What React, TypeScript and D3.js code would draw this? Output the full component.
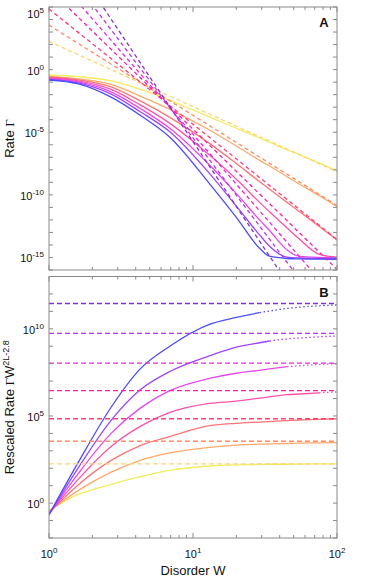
import React from 'react';
import * as d3 from 'd3';

// disorder strengths sampled
const disorder = [1, 1.6, 2.7, 4.3, 6.9, 13, 20, 29, 34, 45, 55, 75, 100];
const sizes = [4, 5, 6, 7, 8, 9, 10];

// panel A: log10 of rate for each system size
const rateL4 = [-0.43, -0.56, -0.9, -1.57, -2.45, -3.78, -4.68, -5.46, -5.8, -6.4, -6.8, -7.45, -8.1];
const rateL5 = [-0.54, -0.74, -1.17, -2.11, -3.17, -4.82, -6.1, -7.25, -7.7, -8.55, -9.15, -10.05, -10.95];
const rateL6 = [-0.61, -0.82, -1.38, -2.5, -3.81, -5.89, -7.5, -8.95, -9.55, -10.6, -11.35, -12.5, -13.6];
const rateL7 = [-0.67, -0.9, -1.58, -2.82, -4.29, -6.82, -8.75, -10.6, -11.35, -12.65, -13.55, -14.75, -14.97];
const rateL8 = [-0.72, -0.98, -1.77, -3.1, -4.69, -7.62, -9.9, -12.0, -12.85, -14.4, -14.92, -15.0, -15.02];
const rateL9 = [-0.78, -1.06, -1.95, -3.36, -4.96, -8.28, -10.9, -13.2, -14.1, -14.98, -15.04, -15.07, -15.08];
const rateL10 = [-0.83, -1.14, -2.2, -3.65, -5.4, -9.1, -11.8, -14.27, -14.9, -15.08, -15.11, -15.13, -15.15];

// panel B: log10 of rescaled rate
const scaledL4 = [-0.4, 0.5, 1.08, 1.52, 1.88, 2.13, 2.2, 2.22, 2.23, 2.23, 2.24, 2.25, 2.25];
const scaledL5 = [-0.47, 0.73, 1.78, 2.45, 2.88, 3.2, 3.33, 3.38, 3.4, 3.42, 3.44, 3.46, 3.47];
const scaledL6 = [-0.55, 1.06, 2.45, 3.3, 3.82, 4.44, 4.58, 4.65, 4.68, 4.73, 4.77, 4.81, 4.84];
const scaledL7 = [-0.6, 1.38, 3.25, 4.4, 5.2, 5.72, 5.85, 6.02, 6.1, 6.22, 6.26, 6.33, 6.38];
const scaledL8 = [-0.63, 1.71, 4.0, 5.45, 6.45, 7.15, 7.45, 7.62, 7.7, 7.83, 7.88, 7.96, 8.0];
const scaledL9 = [-0.66, 2.04, 4.75, 6.5, 7.55, 8.45, 8.95, 9.2, 9.3, 9.42, 9.47, 9.54, 9.59];
const scaledL10 = [-0.66, 2.35, 5.5, 7.7, 9.0, 10.25, 10.65, 10.93, 11.02, 11.17, 11.24, 11.32, 11.37];

// fitted plateau (log10) and power-law exponent 2L-2.8
const plateau = [2.25, 3.55, 4.84, 6.45, 8.03, 9.74, 11.45];
const exponent = [5.2, 7.2, 9.2, 11.2, 13.2, 15.2, 17.2];
// solid up to this W, dotted after
const solidUntil = [100, 100, 100, 75, 45, 34, 29];

const rates = [rateL4, rateL5, rateL6, rateL7, rateL8, rateL9, rateL10];
const scaled = [scaledL4, scaledL5, scaledL6, scaledL7, scaledL8, scaledL9, scaledL10];

const solidColors = ['#f3ec5c', '#ffa868', '#ff7474', '#ff50ac', '#e648ee', '#a044ff', '#4a4cff'];
const dashColors = ['#ffd46c', '#ff8a64', '#ff3c78', '#ff1ea8', '#ec22e2', '#c232e6', '#8632c8'];

const font = '"Liberation Sans", Arial, Helvetica, sans-serif';
const left = 49, right = 337;
const aTop = 7, aBottom = 270;
const bTop = 276.5, bBottom = 538;

const x = d3.scaleLog().domain([1, 100]).range([left, right]);
const yA = d3.scaleLog().domain([1e-16, 1e5]).range([aBottom, aTop]);
const yB = d3.scaleLog().domain([1e-2, 1e13]).range([bBottom, bTop]);

function Pow({ x: px, y: py, e, anchor }) {
  return (
    <text x={px} y={py} textAnchor={anchor} fontSize={11} fontFamily={font} fill="#111">
      10<tspan dy={-5} fontSize={8}>{e}</tspan>
    </text>
  );
}

function Frame({ y, top, bottom, lo, hi, labels, minLabel, letter }) {
  const decades = d3.range(lo, hi + 1);
  const xt = x.ticks();
  return (
    <g>
      <rect x={left} y={top} width={right - left} height={bottom - top} fill="none" stroke="#8a8a8a" strokeWidth={1} />
      {xt.map((t, i) => {
        const major = Math.abs(Math.log10(t) % 1) < 1e-9;
        const len = major ? 5 : 3;
        return (
          <g key={i} stroke="#8a8a8a" strokeWidth={1}>
            <line x1={x(t)} x2={x(t)} y1={bottom} y2={bottom - len} />
            <line x1={x(t)} x2={x(t)} y1={top} y2={top + len} />
          </g>
        );
      })}
      {decades.map(e => (
        <g key={e} stroke="#8a8a8a" strokeWidth={1}>
          <line x1={left} x2={left + 4} y1={y(10 ** e)} y2={y(10 ** e)} />
          <line x1={right} x2={right - 4} y1={y(10 ** e)} y2={y(10 ** e)} />
        </g>
      ))}
      {labels.map(e => (
        <Pow key={e} x={44} y={Math.max(y(10 ** e) + 5, minLabel)} e={String(e)} anchor="end" />
      ))}
      <text x={324} y={top + 20} textAnchor="middle" fontSize={13} fontWeight="bold" fontFamily={font} fill="#111">{letter}</text>
    </g>
  );
}

export default function App() {
  const lineA = d3.line<[number, number]>()
    .x(d => x(d[0]))
    .y(d => yA(10 ** d[1]))
    .curve(d3.curveMonotoneX);
  const lineB = d3.line<[number, number]>()
    .x(d => x(d[0]))
    .y(d => yB(10 ** d[1]))
    .curve(d3.curveMonotoneX);

  return (
    <svg width={374} height={581} style={{ position: 'absolute', left: 0, top: 0, background: '#fff' }}>
      <defs>
        <clipPath id="clipA"><rect x={left} y={aTop} width={right - left} height={aBottom - aTop} /></clipPath>
        <clipPath id="clipB"><rect x={left} y={bTop} width={right - left} height={bBottom - bTop} /></clipPath>
      </defs>

      {/* panel A */}
      <g clipPath="url(#clipA)">
        {rates.map((r, i) => (
          <path key={'s' + i} d={lineA(disorder.map((w, j) => [w, r[j]])) || ''} fill="none" stroke={solidColors[i]} strokeWidth={1.3} />
        ))}
        {sizes.map((L, i) => {
          const ends: [number, number][] = [1, 100].map(w => [w, plateau[i] - exponent[i] * Math.log10(w)]);
          return <path key={'d' + L} d={lineA(ends) || ''} fill="none" stroke={dashColors[i]} strokeWidth={1.3} strokeDasharray="4,3" />;
        })}
      </g>
      <Frame y={yA} top={aTop} bottom={aBottom} lo={-16} hi={5} labels={[5, 0, -5, -10, -15]} minLabel={18} letter="A" />

      {/* panel B */}
      <g clipPath="url(#clipB)">
        {scaled.map((r, i) => {
          const pts: [number, number][] = disorder.map((w, j) => [w, r[j]]);
          const solid = pts.filter(p => p[0] <= solidUntil[i]);
          const dotted = pts.filter(p => p[0] >= solidUntil[i]);
          return (
            <g key={'b' + i}>
              <path d={lineB(solid) || ''} fill="none" stroke={solidColors[i]} strokeWidth={1.3} />
              {dotted.length > 1 && (
                <path d={lineB(dotted) || ''} fill="none" stroke={solidColors[i]} strokeWidth={1.3} strokeDasharray="1.5,2.5" />
              )}
            </g>
          );
        })}
        {plateau.map((p, i) => (
          <path key={'h' + i} d={lineB([[1, p], [100, p]]) || ''} fill="none" stroke={dashColors[i]} strokeWidth={1.3} strokeDasharray="5,3" />
        ))}
      </g>
      <Frame y={yB} top={bTop} bottom={bBottom} lo={-2} hi={13} labels={[10, 5, 0]} minLabel={0} letter="B" />

      {/* x tick labels */}
      {[0, 1, 2].map(e => (
        <Pow key={e} x={x(10 ** e)} y={558} e={String(e)} anchor="middle" />
      ))}
      <text x={x(10)} y={575} textAnchor="middle" fontSize={13} fontFamily={font} fill="#111">Disorder W</text>

      {/* y axis titles */}
      <text transform={`translate(14,${(aTop + aBottom) / 2}) rotate(-90)`} textAnchor="middle" fontSize={13} fontFamily={font} fill="#111">
        Rate <tspan fontFamily="'Liberation Serif', serif">Γ</tspan>
      </text>
      <text transform={`translate(14,${(bTop + bBottom) / 2}) rotate(-90)`} textAnchor="middle" fontSize={13} fontFamily={font} fill="#111">
        Rescaled Rate <tspan fontFamily="'Liberation Serif', serif">Γ</tspan>W<tspan dy={-5} fontSize={9}>2L-2.8</tspan>
      </text>
    </svg>
  );
}
